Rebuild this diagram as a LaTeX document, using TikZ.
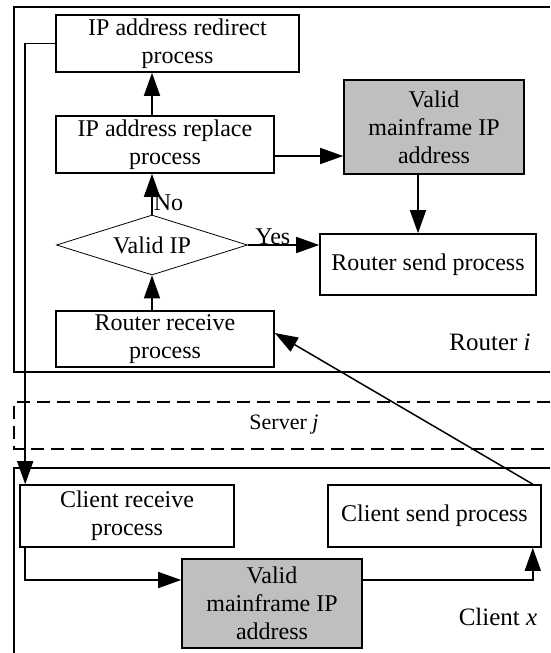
\documentclass[tikz,border=0pt]{standalone}
\usepackage{fontspec}
\setmainfont{Liberation Serif}
\usetikzlibrary{arrows.meta,shapes.geometric}
\begin{document}
\begin{tikzpicture}[x=1pt,y=-1pt,
  box/.style={draw,line width=1.6pt,rectangle,inner sep=0pt,align=center,font=\fontsize{24}{28}\selectfont},
  gbox/.style={box,fill=black!25},
  arr/.style={line width=1.5pt,-{Triangle[length=23pt,width=16pt]}},
  frame/.style={line width=1.5pt},
  lbl/.style={font=\fontsize{24}{27}\selectfont,inner sep=1pt}]
\useasboundingbox (0,0) rectangle (550,653);
% frames
\draw[frame] (550,7) -- (14,7) -- (14,372) -- (550,372);
\draw[frame,dash pattern=on 13pt off 7pt] (550,402) -- (14,402) -- (14,449) -- (550,449);
\draw[frame] (550,468) -- (14,468) -- (14,653);
% nodes
\node[box,minimum width=243pt,minimum height=57pt] (redirect) at (177.5,43.5) {IP address redirect\\process};
\node[box,minimum width=218pt,minimum height=57pt] (replace) at (165,144.5) {IP address replace\\process};
\node[gbox,minimum width=180pt,minimum height=94pt] (valid1) at (434,127) {Valid\\mainframe IP\\address};
\node[box,minimum width=216pt,minimum height=61pt] (send) at (428,264.5) {Router send process};
\node[draw,line width=0.8pt,diamond,aspect=3.2,inner sep=0pt,minimum width=191pt,minimum height=60pt,font=\fontsize{24}{27}\selectfont] (dia) at (152,245) {Valid IP};
\node[box,minimum width=218pt,minimum height=56pt] (recv) at (165,339) {Router receive\\process};
\node[box,minimum width=214pt,minimum height=62pt] (crecv) at (127,516) {Client receive\\process};
\node[gbox,minimum width=180pt,minimum height=89pt] (valid2) at (272,603.5) {Valid\\mainframe IP\\address};
\node[box,minimum width=213pt,minimum height=62pt] (csend) at (434.5,516) {Client send process};
% labels
\node[lbl,font=\fontsize{25}{28}\selectfont] (rl) at (490,342) {Router \textit{i}};
\node[lbl,font=\fontsize{22}{25}\selectfont] (sl) at (284,425) {Server \textit{j}};
\node[lbl,font=\fontsize{25}{28}\selectfont] (cl) at (498,617) {Client \textit{x}};
% connectors
\draw[arr] (redirect.west) -| ([xshift=6pt]crecv.north west);
\draw[arr] (dia.north |- replace.north) -- (dia.north |- redirect.south);
\draw[arr] (dia.north) -- (dia.north |- replace.south) node[lbl,pos=0.3,anchor=west] (no) {No};
\draw[arr] (dia.south |- recv.north) -- (dia.south);
\draw[arr] ([yshift=-11.5pt]replace.east) -- ([yshift=-11.5pt]replace.east -| valid1.west);
\draw[arr] ([xshift=-16pt]valid1.south) -- ([xshift=-16pt]valid1.south |- send.north);
\draw[arr] (dia.east) -- (dia.east -| send.west) node[lbl,pos=0.35,anchor=south,inner sep=0pt] (yes) {Yes};
\draw[arr] ([xshift=-9pt]csend.north east) -- ([yshift=6pt]recv.east);
\draw[arr] ([xshift=6pt]crecv.south west) |- ([yshift=23.5pt]valid2.west);
\draw[arr] ([yshift=23.5pt]valid2.east) -| ([xshift=-9pt]csend.south east);
\end{tikzpicture}
\end{document}
